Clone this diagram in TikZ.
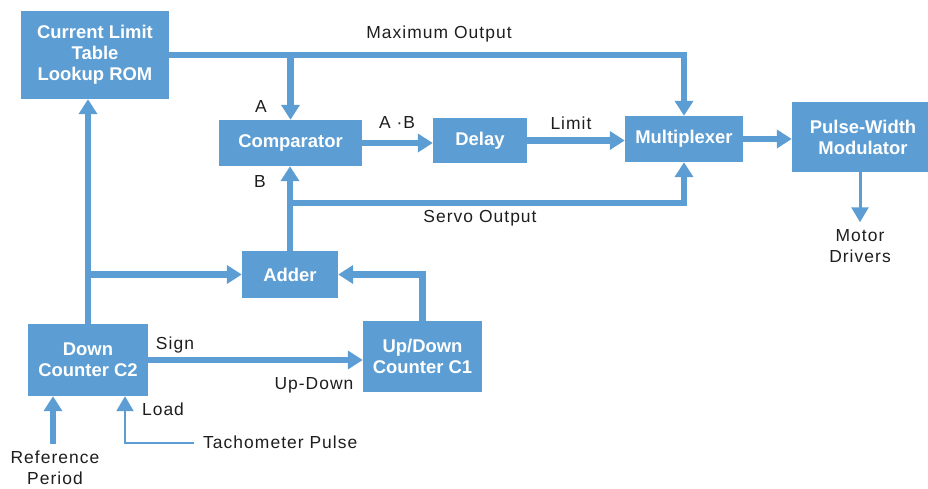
\documentclass[tikz,border=0pt]{standalone}
\usepackage{fontspec}
\setmainfont{Liberation Sans}
\newfontfamily\lblfont[LetterSpace=6]{Liberation Sans}
\usetikzlibrary{arrows.meta}
\definecolor{hpblue}{RGB}{92,158,211}
\definecolor{inkgrey}{RGB}{30,30,30}
\tikzset{
  block/.style={fill=hpblue, text=white, font=\bfseries\fontsize{18.5}{21}\selectfont, align=center, inner sep=0pt},
  lbl/.style={text=inkgrey, font=\lblfont\fontsize{17.5}{21}\selectfont, align=center, inner sep=0pt},
  bus/.style={draw=hpblue, line width=6.5bp, -{Triangle[width=18bp,length=15bp]}},
  wire/.style={draw=hpblue, line width=2.2bp, -{Triangle[width=17bp,length=15bp]}},
}

\begin{document}
\begin{tikzpicture}[x=1bp, y=-1bp]
	%%%%% START %%%%%
	\useasboundingbox (0,0) rectangle (928,489);
	
	\node[block, minimum width=148bp, minimum height=88bp] (rom) at (95,55) {Current Limit\\Table\\Lookup ROM};
	\node[block, minimum width=143bp, minimum height=46bp] (comp) at (290.5,143) {Comparator};
	\node[block, minimum width=94bp, minimum height=45bp] (delay) at (480,140.5) {Delay};
	\node[block, minimum width=118bp, minimum height=46bp] (mux) at (684,139) {Multiplexer};
	\node[block, minimum width=142bp, minimum height=70bp] (pwm) at (863,137) {Pulse-Width\\Modulator};
	\node[block, minimum width=96bp, minimum height=47bp] (adder) at (290,274.5) {Adder};
	\node[block, minimum width=120bp, minimum height=72bp] (cnt2) at (88,360) {Down\\Counter C2};
	\node[block, minimum width=119bp, minimum height=71bp] (cnt1) at (422.5,356.5) {Up/Down\\Counter C1};
	
	\coordinate (servo) at (290,203);
	\coordinate (refin) at (53,444);
	\coordinate (tacho) at (194,443);
	
	\draw[bus] (rom.east) -- (rom.east -| mux.north) -- (mux.north);
	\draw[bus] (rom.east -| comp.north) -- (comp.north);
	\draw[bus] (comp.east) -- (comp.east -| delay.west);
	\draw[bus] (delay.east) -- (delay.east -| mux.west);
	\draw[bus] (mux.east) -- (mux.east -| pwm.west);
	\draw[bus] (adder.north) -- (adder.north |- comp.south);
	\draw[bus] (servo) -| (mux.south);
	
	\draw[bus] (cnt2.north) -- (cnt2.north |- rom.south);
	\draw[bus] (cnt2.north |- adder.west) -- (adder.west);
	\draw[bus] (cnt1.north) |- (adder.east);
	\draw[bus] (cnt2.east) -- (cnt2.east -| cnt1.west);
	
	\draw[bus] (refin) -- (refin |- cnt2.south);
	\draw[wire] (tacho) -| ([xshift=37bp]cnt2.south);
	
	\node[lbl] (drv) at (860,246) {Motor\\Drivers};
	\draw[wire, line width=3bp, shorten >=7bp] (pwm.south -| drv.north) -- (drv.north);
	
	\node[lbl] (maxout) at (439,34) {Maximum Output};
	\node[lbl] (ina) at (261,107) {A};
	\node[lbl] (inb) at (260,182) {B};
	\node[lbl] (aandb) at (397,123) {A ·B};
	\node[lbl] (limit) at (571,123) {Limit};
	\node[lbl] (servoout) at (480,218) {Servo Output};
	\node[lbl] (sign) at (175,345) {Sign};
	\node[lbl] (updown) at (314,385) {Up-Down};
	\node[lbl] (load) at (163,409) {Load};
	\node[lbl, anchor=west] (tachopulse) at (203,442) {Tachometer Pulse};
	\node[lbl] (refper) at (55,468) {Reference\\Period};
	%%%%% END %%%%%
\end{tikzpicture}
\end{document}
